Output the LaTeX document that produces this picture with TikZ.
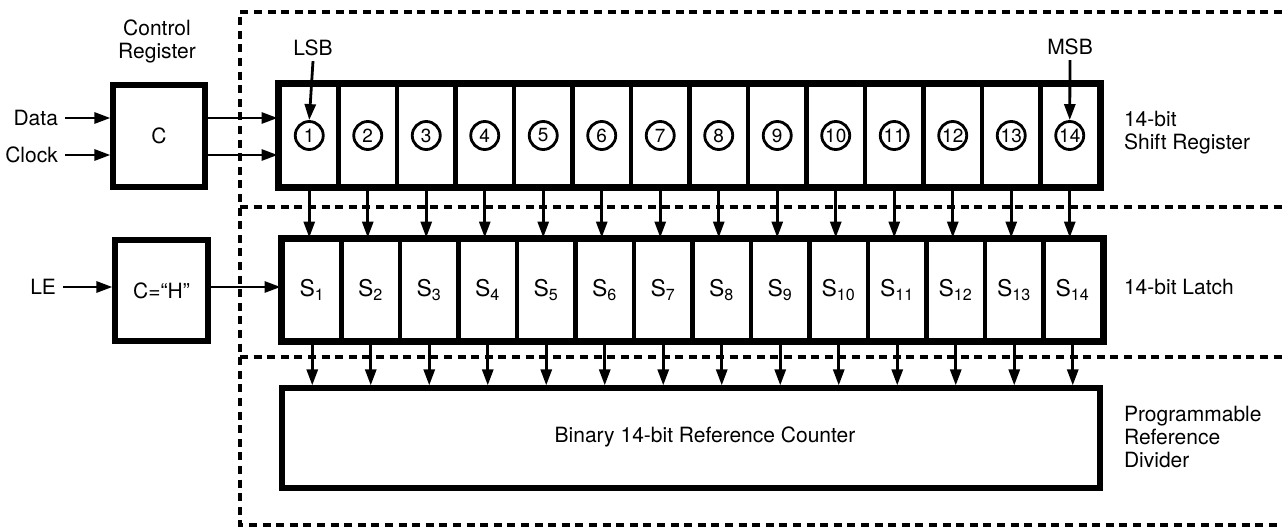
\documentclass[tikz,border=0pt]{standalone}
\usepackage{fontspec}
\setmainfont{TeX Gyre Heros}
\usetikzlibrary{arrows.meta}

\begin{document}
\begin{tikzpicture}[x=0.5pt,y=-0.5pt,
  every node/.style={font=\fontsize{10.5}{11.5}\selectfont},
  blk/.style={draw,line width=2.6pt,inner sep=0pt},
  cell/.style={draw,line width=2.4pt,minimum width=29.25pt,inner sep=0pt},
  bit/.style={draw,circle,line width=1.4pt,minimum size=14pt,inner sep=0pt,font=\fontsize{9.5}{10}\selectfont},
  sig/.style={line width=1.4pt,-{Triangle[length=8pt,width=5.5pt]}},
  zone/.style={line width=1.9pt,dash pattern=on 4pt off 2.8pt}]
\useasboundingbox (0,0) rectangle (1282,530);

\draw[zone] (1282,12) -- (240,12) -- (240,525) -- (1282,525);
\draw[zone] (240,207) -- (1282,207);
\draw[zone] (240,357) -- (1282,357);

\node[align=center] (ctitle) at (157,41) {Control\\Register};
\node[blk,minimum width=46pt,minimum height=51pt] (creg) at (159,136) {C};
\node[blk,minimum width=46.5pt,minimum height=50.5pt] (chold) at (161.5,290.5) {C=``H''};
\node[anchor=east] (data) at (65,118) {Data};
\node[anchor=east] (clock) at (65,155) {Clock};
\node[anchor=east] (le) at (63,287) {LE};

\node[blk,minimum width=409pt,minimum height=50pt] (cnt) at (691,438) {};
\node (cntlabel) at (705,437) {Binary 14-bit Reference Counter};

\foreach \i in {1,...,14}{
  \node[cell,minimum height=50.5pt] (sr\i) at ({280+58.5*(\i-0.5)},135.5) {};
  \node[bit] (b\i) at (sr\i) {\i};
  \node[cell,minimum height=50pt,font=\fontsize{11.5}{13}\selectfont] (ls\i) at ({283+58.5*(\i-0.5)},290) {S\textsubscript{\i}};
  \draw[sig] (sr\i.south) -- (sr\i.south |- ls\i.north);
  \draw[sig] (ls\i.south) -- (ls\i.south |- cnt.north);
}
\draw[line width=2.6pt] (sr1.north west) rectangle (sr14.south east);
\draw[line width=2.6pt] (ls1.north west) rectangle (ls14.south east);

\node (lsb) at (313,48) {LSB};
\node (msb) at (1070,47) {MSB};
\draw[sig] (lsb.south) ++(0,-2) -- (b1.north);
\draw[sig] (msb.south) ++(0,-2) -- (b14.north);

\draw[sig] (data.east) -- (data.east -| creg.west);
\draw[sig] (clock.east) -- (clock.east -| creg.west);
\draw[sig] (creg.east |- data.east) -- (sr1.west |- data.east);
\draw[sig] (creg.east |- clock.east) -- (sr1.west |- clock.east);
\draw[sig] (le.east) -- (le.east -| chold.west);
\draw[sig] (chold.east |- le.east) -- (ls1.west |- le.east);

\node[anchor=west,align=left] (srlabel) at (1117,133) {14-bit\\Shift Register};
\node[anchor=west] (lslabel) at (1117,287) {14-bit Latch};
\node[anchor=west,align=left] (divlabel) at (1117,437) {Programmable\\Reference\\Divider};
\end{tikzpicture}
\end{document}
